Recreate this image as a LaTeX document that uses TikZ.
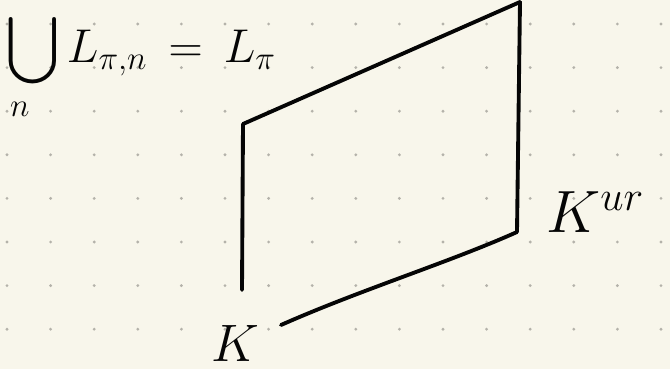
\documentclass[tikz,border=0pt]{standalone}
\usepackage{fix-cm}
\usepackage{amsmath,amsfonts,amssymb}
\usepackage{xcolor}
\usepackage{tikz}
\usetikzlibrary{calc,positioning}
\definecolor{papelBg}{RGB}{248,246,235}
\definecolor{puntoGris}{RGB}{180,178,170}
\definecolor{tinta}{RGB}{5,5,5}

\begin{document}
\begin{tikzpicture}[x=0.02cm,y=-0.02cm,
    trazo/.style={draw=tinta, line width=2.2pt, line cap=round, line join=round},
    rotulo/.style={inner sep=0, tinta}]
  % Paper and dot grid
  \fill[papelBg] (0,0) rectangle (670,369);
  \useasboundingbox (0,0) rectangle (670,369);
  \foreach \i in {0,...,15}
    \foreach \j in {0,...,7}
      \fill[puntoGris] (7+43.6*\i,24+43.6*\j) circle[radius=0.9pt];
  % Labels
  \node[rotulo, font=\fontsize{27}{27}\selectfont, anchor=north west] (union) at (6,12)
    {$\displaystyle\bigcup_{\smash{n}\mkern14mu} L_{\pi,n} \mkern3mu=\mkern3mu L_\pi$};
  \node[rotulo, font=\fontsize{34}{34}\selectfont, anchor=base west] (Kur) at (546,232)
    {$K^{ur}$};
  \node[rotulo, font=\fontsize{30}{30}\selectfont, anchor=base west] (K) at (211,361)
    {$K$};
  % Corners
  \coordinate (esqL) at (243,124);
  \coordinate (esqT) at (520,2);
  \coordinate (esqR) at (517,232);
  \coordinate (bajoL) at (242,290);
  \coordinate (bajoK) at (281,325);
  % Tower lines
  \draw[trazo] (esqL) -- (esqT);
  \draw[trazo] (esqL) -- (bajoL);
  \draw[trazo] (esqT) -- (esqR);
  \draw[trazo] (bajoK) .. controls (360,290) and (450,262) .. (esqR);
\end{tikzpicture}
\end{document}
